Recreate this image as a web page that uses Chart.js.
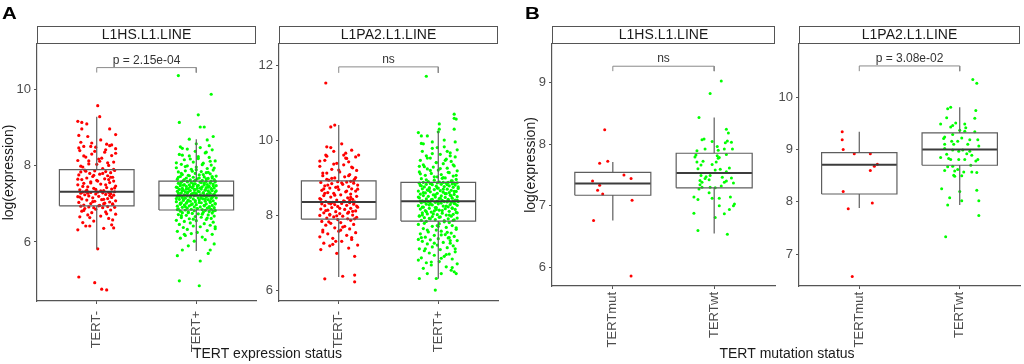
<!DOCTYPE html>
<html><head><meta charset="utf-8">
<script src="https://cdn.jsdelivr.net/npm/chart.js@4.4.1/dist/chart.umd.min.js"></script>
<style>
html,body{margin:0;padding:0;background:#fff;}
#wrap{position:relative;width:1024px;height:364px;overflow:hidden;background:#fff;}
#wrap canvas{position:absolute;left:0;top:0;}
</style></head><body>
<div id="wrap">
<canvas id="cA1" width="1024" height="364"></canvas>
<canvas id="cA2" width="1024" height="364"></canvas>
<canvas id="cB1" width="1024" height="364"></canvas>
<canvas id="cB2" width="1024" height="364"></canvas>
</div>
<script>
// ---------- categories & labels ----------
const categoriesA = ['TERT-', 'TERT+'];
const categoriesB = ['TERTmut', 'TERTwt'];
const stripLabels = ['L1HS.L1.LINE', 'L1PA2.L1.LINE', 'L1HS.L1.LINE', 'L1PA2.L1.LINE'];
const pLabels = ['p = 2.15e-04', 'ns', 'ns', 'p = 3.08e-02'];
const yTitle = 'log(expression)';
const xTitleA = 'TERT expression status';
const xTitleB = 'TERT mutation status';

// ---------- y axis ranges and ticks ----------
const yRangeA1 = [4.45, 11.2];  const yTicksA1 = [6, 8, 10];
const yRangeA2 = [5.71, 12.56]; const yTicksA2 = [6, 8, 10, 12];
const yRangeB1 = [5.70, 9.62];  const yTicksB1 = [6, 7, 8, 9];
const yRangeB2 = [6.39, 11.02]; const yTicksB2 = [7, 8, 9, 10];

// ---------- box statistics: [Q1, median, Q3, lower whisker, upper whisker] ----------
const boxA1Neg = [6.95, 7.32, 7.90, 5.82, 9.29];
const boxA1Pos = [6.84, 7.22, 7.60, 5.76, 8.70];
const boxA2Neg = [7.89, 8.35, 8.91, 6.35, 10.40];
const boxA2Pos = [7.84, 8.37, 8.87, 6.30, 10.24];
const boxB1Mut = [7.17, 7.36, 7.54, 6.76, 7.71];
const boxB1Wt  = [7.29, 7.53, 7.85, 6.55, 8.43];
const boxB2Mut = [8.15, 8.71, 8.94, 7.88, 9.34];
const boxB2Wt  = [8.70, 9.00, 9.32, 7.94, 9.81];

// ---------- significance brackets: [top, end] ----------
const bracketA1 = [10.58, 10.45];
const bracketA2 = [11.95, 11.79];
const bracketB1 = [9.26, 9.18];
const bracketB2 = [10.60, 10.50];

// ---------- jittered points: [jitter (1/100 category), value] ----------
const ptsA1Neg = [[-18,5.08],[-2,4.93],[5,4.76],[10,4.74],[1,5.82],
[-19,6.32],[-11,6.42],[-7,6.42],[7,6.36],[17,6.37],[15,6.45],[16,6.58],[-14,6.51],[-3,6.55],[12,6.62],[-17,6.66],[4,6.68],[-9,6.71],[19,6.73],[-5,6.77],[9,6.79],[-15,6.81],[14,6.84],[-1,6.86],[-12,6.88],[6,6.9],[18,6.91],[-8,6.92],[11,6.93],[-16,6.94],
[3,6.96],[-13,6.97],[16,6.99],[-6,7.01],[8,7.02],[-18,7.04],[13,7.05],[-2,7.07],[19,7.08],[-10,7.1],[5,7.11],[-15,7.13],[11,7.14],[-4,7.16],[15,7.17],[-19,7.19],[2,7.2],[-8,7.21],[17,7.23],[-12,7.24],[9,7.25],[-1,7.26],[14,7.27],[-16,7.28],[6,7.29],[-6,7.3],[12,7.3],[-14,7.31],[1,7.31],[18,7.32],
[-11,7.33],[7,7.35],[-17,7.37],[15,7.39],[-3,7.41],[10,7.43],[-9,7.45],[19,7.47],[-19,7.5],[4,7.52],[-13,7.54],[13,7.56],[-6,7.58],[17,7.6],[0,7.62],[-15,7.64],[8,7.66],[-10,7.68],[16,7.7],[-4,7.72],[11,7.74],[-18,7.76],[3,7.78],[-7,7.8],[14,7.82],[-16,7.84],[9,7.85],[-2,7.87],[18,7.88],[-12,7.89],
[6,7.93],[-14,7.97],[12,8.01],[-8,8.05],[17,8.1],[-19,8.14],[2,8.18],[-11,8.23],[15,8.27],[-5,8.31],[8,8.36],[-17,8.4],[19,8.45],[-1,8.49],[13,8.53],[-13,8.51],[-6,8.51],[10,8.57],[-16,8.62],[4,8.68],[-9,8.77],[-18,8.8],[19,8.82],[-15,8.97],[13,8.97],[-19,9.17],[-15,9.14],[-10,9.1],[3,9.29],[1,9.58],
[-7,6.64],[10,6.74],[-13,6.83],[2,6.95],[16,7.0],[-4,7.06],[7,7.12],[-17,7.18],[13,7.22],[-9,7.28],[4,7.34],[-1,7.38],[18,7.42],[-14,7.46],[9,7.5],[-6,7.55],[1,7.6],[-19,7.65],[14,7.7],[-3,7.75],[6,7.8],[-11,7.86],[17,7.91],[-16,7.99],[0,8.04],[11,8.08],[-8,8.13],[5,8.2],[-13,8.26],[19,8.33],[-2,8.38],[9,8.42],[-18,8.47],[15,8.55],[-5,8.6],[7,7.0],[-10,7.36],[12,7.64],[-3,6.9],[3,8.12]];

const ptsA1Pos = [[-17,4.98],[3,4.85],[4,5.5],[-19,5.64],[12,5.7],[-14,5.79],[14,5.79],
[-8,5.9],[18,5.95],[-2,6.02],[9,6.06],[-16,6.1],[6,6.13],[-11,6.17],[16,6.2],[-5,6.22],[1,6.25],[-19,6.28],[11,6.3],[-9,6.33],[19,6.35],[-13,6.38],[4,6.4],[-3,6.42],[14,6.44],[-17,6.46],[8,6.48],[-6,6.5],[17,6.52],[-12,6.54],[0,6.56],[-20,6.57],[10,6.59],[-7,6.61],[15,6.62],[-15,6.64],[5,6.65],[-1,6.67],[18,6.68],[-10,6.7],[12,6.71],[-18,6.72],[2,6.74],[-4,6.75],[16,6.76],[-14,6.77],[7,6.78],[-8,6.79],[13,6.8],[-16,6.81],[-2,6.82],[19,6.83],[9,6.83],
[-11,6.84],[6,6.85],[15,6.86],[-5,6.86],[-18,6.87],[1,6.88],[11,6.89],[-9,6.89],[18,6.9],[-14,6.91],[4,6.92],[-2,6.92],[13,6.93],[-19,6.94],[8,6.95],[-7,6.95],[16,6.96],[-12,6.97],[0,6.98],[-16,6.99],[10,7.0],[-4,7.0],[19,7.01],[-10,7.02],[5,7.03],[-15,7.03],[14,7.04],[-1,7.05],[-20,7.06],[9,7.07],[-6,7.07],[17,7.08],[-13,7.09],[3,7.1],[-8,7.1],[12,7.11],[-17,7.12],[7,7.13],[-3,7.13],[15,7.14],[-11,7.15],[2,7.16],[20,7.16],[-14,7.17],[10,7.18],[-6,7.18],[16,7.19],[-19,7.2],[5,7.2],[-9,7.21],[13,7.21],[-2,7.22],[18,7.22],[-16,7.22],[8,7.22],
[-12,7.23],[4,7.24],[17,7.24],[-5,7.25],[-18,7.26],[11,7.26],[0,7.27],[-9,7.28],[14,7.28],[-15,7.29],[7,7.3],[-2,7.3],[19,7.31],[-11,7.32],[3,7.32],[-19,7.33],[12,7.34],[-6,7.35],[16,7.35],[-13,7.36],[9,7.37],[-1,7.37],[-17,7.38],[5,7.39],[15,7.39],[-8,7.4],[1,7.41],[-14,7.41],[18,7.42],[-4,7.43],[10,7.43],[-20,7.44],[6,7.45],[-10,7.46],[13,7.46],[-3,7.47],[-16,7.48],[20,7.48],[2,7.49],[-7,7.5],[11,7.51],[-12,7.51],[17,7.52],[-1,7.53],[8,7.54],[-18,7.54],[14,7.55],[-5,7.56],[4,7.57],[-15,7.57],[19,7.58],[-9,7.59],[10,7.59],[-2,7.6],[15,7.6],
[-13,7.61],[6,7.62],[-6,7.63],[18,7.64],[-19,7.65],[1,7.66],[12,7.67],[-10,7.68],[16,7.69],[-3,7.7],[8,7.71],[-16,7.72],[20,7.73],[-8,7.75],[3,7.76],[-14,7.77],[14,7.79],[-1,7.8],[10,7.82],[-18,7.84],[5,7.85],[-11,7.87],[17,7.89],[-5,7.91],[11,7.93],[-20,7.95],[0,7.97],[-9,8.0],[15,8.02],[-15,8.04],[7,8.07],[-3,8.1],[19,8.13],[-12,8.16],[2,8.19],[13,8.22],[-7,8.26],[-17,8.3],[9,8.34],[-1,8.38],[16,8.42],[-14,8.46],[-16,8.5],[13,8.53],[0,8.58],[11,8.68],[-7,8.7],[17,8.77],[8,9.02],[4,9.02],[-17,9.14],[2,9.34],[15,9.88],[-18,10.37],
[-3,6.6],[11,6.63],[-15,6.69],[6,6.73],[-8,6.77],[17,6.81],[-19,6.85],[1,6.88],[13,6.9],[-11,6.93],[8,6.96],[-5,6.98],[19,7.0],[-16,7.02],[3,7.04],[-9,7.06],[14,7.07],[-1,7.09],[-13,7.11],[9,7.12],[-20,7.14],[5,7.15],[16,7.17],[-6,7.18],[-17,7.2],[11,7.21],[0,7.23],[-12,7.24],[18,7.25],[-4,7.27],[7,7.28],[-18,7.29],[13,7.31],[-8,7.32],[2,7.33],[20,7.34],[-14,7.35],[9,7.36],[-2,7.38],[-10,7.39],[15,7.4],[4,7.42],[-19,7.43],[12,7.44],[-6,7.45],[1,7.47],[17,7.48],[-13,7.49],[8,7.5],[-3,7.52],[-16,7.53],[14,7.55],[5,7.56],[-9,7.58],[19,7.6],[-1,7.62],[-12,7.64],[10,7.66],[3,7.68],[-18,7.7],[16,7.72],[-7,7.74],[7,7.77],[-15,7.8],[12,7.83],[-4,7.86],[0,7.9],[18,7.94],[-11,7.98],[6,8.03],[-20,8.08],[14,8.12],[-6,8.18],[2,8.24],[-14,8.28],[10,8.36],[-9,8.44],[4,8.48],[19,6.4],[-12,6.2]];

const ptsA2Neg = [[-14,6.3],[16,6.22],[4,6.37],[16,6.4],[16,6.9],[-2,6.98],[-18,7.08],[10,7.12],[-9,7.18],[19,7.2],[-15,7.25],[3,7.3],[13,7.35],[-6,7.38],[-19,7.42],[8,7.46],[-11,7.5],[17,7.53],[0,7.57],[-16,7.6],[11,7.63],[-4,7.66],[6,7.7],[-13,7.73],[15,7.75],[-8,7.78],[2,7.8],[-17,7.83],[12,7.86],[-1,7.88],
[9,7.9],[-12,7.92],[18,7.94],[-5,7.95],[4,7.97],[-19,7.99],[14,8.0],[-9,8.02],[1,8.04],[-15,8.06],[10,8.08],[-3,8.09],[17,8.11],[-11,8.13],[6,8.15],[-18,8.16],[12,8.18],[-7,8.2],[19,8.21],[-1,8.23],[-14,8.25],[8,8.26],[-4,8.28],[15,8.29],[-17,8.3],[3,8.31],[-10,8.32],[11,8.33],[-6,8.34],[16,8.35],
[-13,8.36],[5,8.38],[-2,8.4],[14,8.42],[-19,8.44],[9,8.46],[-8,8.48],[18,8.5],[-15,8.52],[2,8.54],[12,8.56],[-5,8.58],[-11,8.6],[7,8.62],[17,8.64],[-17,8.66],[0,8.68],[13,8.7],[-9,8.72],[-3,8.74],[10,8.76],[-14,8.78],[19,8.8],[4,8.82],[-7,8.84],[15,8.85],[-18,8.87],[8,8.88],[-1,8.89],[12,8.9],
[-10,8.93],[16,8.96],[-4,8.99],[6,9.02],[-16,9.05],[11,9.08],[-12,9.12],[1,9.15],[18,9.19],[-7,9.22],[14,9.26],[-19,9.3],[5,9.34],[-2,9.38],[10,9.42],[-14,9.46],[8,9.51],[17,9.55],[-12,9.57],[-13,9.6],[20,9.6],[13,9.73],[-8,9.8],[-12,9.82],[7,9.65],[-5,9.7],[-8,10.35],[-4,10.4],[-13,11.52],[3,9.9],
[-6,7.22],[13,7.4],[-16,7.55],[4,7.68],[-10,7.82],[16,7.9],[-2,7.98],[9,8.05],[-13,8.12],[1,8.18],[18,8.24],[-8,8.3],[6,8.36],[-18,8.42],[12,8.47],[-4,8.53],[-14,8.58],[8,8.64],[19,8.69],[-1,8.75],[-11,8.8],[3,8.86],[15,8.92],[-7,8.98],[10,9.05],[-16,9.12],[0,9.2],[13,9.28],[-5,9.36],[-19,9.44],[7,9.52],[-9,8.0],[11,8.4],[-15,8.7],[2,7.6],[17,9.0],[-3,7.3],[5,9.6],[-12,8.95],[14,8.1]];

const ptsA2Pos = [[-3,6.0],[-19,6.31],[-2,6.31],[-11,6.44],[3,6.44],[13,6.53],[16,6.49],[18,6.44],[-20,6.8],[-15,6.58],[8,6.62],[-7,6.67],[19,6.7],[-12,6.73],[1,6.76],[14,6.83],[-17,6.86],[6,6.9],[-4,6.93],[11,6.96],[-9,6.99],[17,7.02],[-14,7.05],[2,7.08],[-19,7.1],[9,7.13],[-6,7.15],[15,7.18],[-1,7.2],[-11,7.23],[12,7.25],[5,7.27],[-16,7.3],[19,7.32],[-8,7.34],[0,7.37],[10,7.39],[-13,7.41],[16,7.43],[-4,7.46],[7,7.48],[-18,7.5],[13,7.52],[-10,7.55],[3,7.57],[-2,7.6],[18,7.62],[-15,7.64],[8,7.67],[-6,7.7],[14,7.72],[-20,7.75],[1,7.77],[11,7.8],[-12,7.83],
[6,7.85],[-17,7.86],[16,7.87],[-3,7.88],[10,7.9],[-9,7.91],[19,7.92],[-14,7.93],[2,7.95],[-6,7.96],[13,7.97],[-19,7.98],[8,8.0],[-1,8.01],[15,8.02],[-11,8.03],[4,8.05],[-16,8.06],[18,8.07],[-7,8.08],[11,8.1],[-4,8.11],[-13,8.12],[1,8.13],[17,8.15],[-18,8.16],[7,8.17],[-9,8.18],[14,8.19],[-2,8.2],[-15,8.21],[10,8.22],[5,8.24],[-20,8.25],[19,8.26],[-6,8.27],[12,8.28],[-12,8.29],[0,8.3],[16,8.31],[-8,8.31],[3,8.32],[-17,8.33],[13,8.34],[-3,8.34],[9,8.35],[-14,8.35],[20,8.36],[-10,8.36],[6,8.36],[-1,8.37],[-18,8.37],[15,8.37],
[-16,8.38],[4,8.39],[17,8.4],[-7,8.41],[10,8.42],[-12,8.43],[1,8.44],[14,8.45],[-19,8.46],[7,8.47],[-3,8.48],[19,8.49],[-10,8.5],[3,8.51],[-15,8.52],[12,8.53],[-5,8.54],[16,8.55],[-18,8.56],[8,8.57],[-1,8.58],[-13,8.59],[11,8.6],[5,8.61],[-8,8.62],[18,8.63],[-20,8.64],[2,8.65],[13,8.66],[-11,8.67],[-4,8.68],[9,8.69],[-16,8.7],[20,8.71],[0,8.72],[-9,8.73],[15,8.74],[-14,8.75],[6,8.76],[-2,8.77],[11,8.78],[-18,8.79],[17,8.8],[-6,8.81],[3,8.82],[-12,8.82],[14,8.83],[-8,8.84],[8,8.85],[-19,8.85],[19,8.86],[-1,8.86],[10,8.87],[-15,8.87],[5,8.87],
[-10,8.89],[13,8.91],[-4,8.93],[18,8.95],[-17,8.97],[7,8.99],[-1,9.02],[15,9.04],[-13,9.06],[3,9.08],[-7,9.11],[11,9.13],[-19,9.15],[19,9.18],[0,9.2],[-11,9.23],[9,9.25],[-5,9.28],[16,9.31],[-15,9.34],[5,9.37],[-2,9.4],[13,9.43],[-18,9.46],[8,9.49],[-8,9.52],[17,9.55],[-12,9.58],[2,9.62],[12,9.66],[-16,9.7],[19,9.74],[-6,9.78],[6,9.82],[-17,9.91],[-6,9.95],[17,9.95],[-20,10.2],[-17,10.11],[-11,10.11],[0,10.22],[16,10.29],[1,10.29],[1,10.43],[18,10.56],[16,10.58],[16,10.69],[-12,11.7],
[-4,7.25],[12,7.32],[-17,7.4],[3,7.47],[9,7.54],[-11,7.6],[18,7.66],[-1,7.72],[-14,7.78],[6,7.82],[15,7.86],[-8,7.9],[1,7.94],[-19,7.97],[11,8.0],[-5,8.03],[19,8.06],[-12,8.09],[4,8.12],[-2,8.15],[14,8.18],[-16,8.21],[8,8.24],[-9,8.27],[17,8.3],[0,8.33],[-13,8.36],[10,8.39],[-6,8.42],[2,8.45],[-20,8.48],[13,8.51],[-3,8.54],[7,8.57],[-15,8.6],[16,8.63],[-10,8.66],[5,8.69],[-1,8.72],[20,8.75],[-17,8.78],[9,8.81],[-7,8.84],[1,8.88],[14,8.91],[-12,8.94],[4,8.98],[-4,9.02],[18,9.06],[-18,9.1],[10,9.14],[-8,9.19],[2,9.24],[-14,9.29],[15,9.34],[-2,9.4],[7,9.46],[-11,9.52],[12,9.58],[-6,9.64],[0,7.7],[-16,8.0],[19,8.4],[-9,8.7],[5,9.0],[-19,9.3],[11,7.4],[-3,8.2],[16,8.85],[-13,7.1],[8,6.95],[-7,6.75],[14,6.6],[-20,7.35],[3,6.85],[17,7.1],[-1,9.8],[9,9.7],[-15,9.9],[6,10.0]];

const ptsB1Mut = [[-8,8.23],[-5,7.72],[-13,7.69],[11,7.5],[18,7.44],[-20,7.4],[-13,7.33],[-15,7.25],[-10,7.19],[19,7.09],[-19,6.76],[18,5.86]];
const ptsB1Wt = [[7,9.02],[-4,8.82],[-15,8.43],[12,8.24],[14,8.18],[-10,8.08],[-12,8.07],[13,8.05],[17,8.03],[11,8.02],[3,7.96],[10,7.92],[18,7.92],[-9,7.92],[-2,8.04],[-17,7.89],[4,7.9],[-18,7.82],[12,7.83],[3,7.81],[5,7.78],[-19,7.79],[-17,7.71],[-11,7.72],[4,7.77],[2,7.71],[-2,7.67],[-16,7.6],[-13,7.66],[6,7.59],[15,7.61],[1,7.58],[12,7.55],[-13,7.49],[-8,7.47],[-4,7.49],[-5,7.42],[-14,7.41],[-12,7.38],[12,7.4],[10,7.38],[19,7.37],[-14,7.34],[-12,7.3],[-4,7.3],[1,7.29],[7,7.32],[-5,7.21],[-20,7.14],[-16,7.1],[5,7.12],[16,7.14],[-2,7.12],[20,7.03],[19,7.0],[5,7.0],[15,6.94],[-20,6.88],[10,6.87],[1,6.81],[-16,6.6],[13,6.54],[-9,7.44],[8,7.46],[-15,7.27],[17,7.45]];
const ptsB2Mut = [[-17,9.34],[-17,9.19],[-16,9.0],[-5,8.92],[11,8.92],[18,8.72],[15,8.68],[11,8.6],[-16,8.2],[13,7.98],[-11,7.87],[-7,6.57]];
const ptsB2Wt = [[13,10.34],[17,10.27],[-9,9.81],[-12,9.78],[16,9.75],[-13,9.61],[15,9.6],[-19,9.49],[-4,9.51],[5,9.49],[-7,9.46],[-9,9.43],[6,9.42],[0,9.37],[5,9.35],[15,9.34],[-7,9.29],[-15,9.24],[2,9.22],[-16,9.21],[18,9.19],[10,9.19],[-8,9.16],[-2,9.16],[-15,9.1],[-6,9.1],[8,9.1],[19,9.07],[-15,9.02],[-7,8.99],[3,8.99],[-1,8.97],[10,8.97],[7,8.92],[-13,8.91],[12,8.89],[-19,8.85],[-11,8.83],[-9,8.81],[-1,8.81],[5,8.81],[18,8.81],[16,8.78],[11,8.7],[-7,8.68],[-12,8.67],[-2,8.62],[4,8.57],[-5,8.59],[-15,8.6],[-6,8.51],[-5,8.49],[2,8.5],[12,8.57],[17,8.56],[-18,8.25],[17,8.22],[0,8.2],[-10,8.08],[19,8.02],[2,8.02],[-12,7.94],[19,7.74],[-14,7.33]];

// ---------- drawing ----------
const FONT = "'Liberation Sans', Arial, Helvetica, sans-serif";
const HALF_BOX = 0.375;
const RED = '#ff0000', GREEN = '#00ff00';

function boxOutline(c, s) {
  const [q1, , q3, lo, hi] = s;
  return [
    {x: c - HALF_BOX, y: q1}, {x: c + HALF_BOX, y: q1}, {x: c + HALF_BOX, y: q3},
    {x: c - HALF_BOX, y: q3}, {x: c - HALF_BOX, y: q1}, {x: c, y: null},
    {x: c, y: q3}, {x: c, y: hi}, {x: c, y: null},
    {x: c, y: q1}, {x: c, y: lo}, {x: c, y: null}
  ];
}
function medianLine(c, s) {
  return [{x: c - HALF_BOX, y: s[1]}, {x: c + HALF_BOX, y: s[1]}, {x: c, y: null}];
}
function jitterPts(c, pts) {
  return pts.map(([dx, v]) => ({x: c + dx / 100, y: v}));
}

function makePanel(id, o) {
  const datasets = [
    {data: [...boxOutline(1, o.boxes[0]), ...boxOutline(2, o.boxes[1])], showLine: true, spanGaps: false,
     borderColor: '#5e5e5e', borderWidth: 1.2, pointRadius: 0, fill: false, order: 0},
    {data: [...medianLine(1, o.boxes[0]), ...medianLine(2, o.boxes[1])], showLine: true, spanGaps: false,
     borderColor: '#3c3c3c', borderWidth: 2, pointRadius: 0, fill: false, order: 0},
    {data: [{x: 1, y: o.bracket[1]}, {x: 1, y: o.bracket[0]}, {x: 2, y: o.bracket[0]}, {x: 2, y: o.bracket[1]}],
     showLine: true, borderColor: '#8a8a8a', borderWidth: 1, pointRadius: 0, fill: false, order: 0},
    {data: jitterPts(1, o.pts[0]), backgroundColor: RED, borderWidth: 0, pointRadius: o.r, order: 1},
    {data: jitterPts(2, o.pts[1]), backgroundColor: GREEN, borderWidth: 0, pointRadius: o.r, order: 1}
  ];
  const decor = {
    id: 'decor' + id,
    afterDraw(chart) {
      const {ctx, chartArea: ca, scales: {x, y}} = chart;
      ctx.save();
      ctx.fillStyle = '#fff';
      ctx.fillRect(ca.left, 26, ca.right - ca.left, ca.top - 26);
      ctx.strokeStyle = '#555'; ctx.lineWidth = 1;
      ctx.strokeRect(ca.left + 0.5, 26.5, ca.right - ca.left - 1, ca.top - 27);
      ctx.fillStyle = '#1a1a1a'; ctx.font = '14px ' + FONT;
      ctx.textAlign = 'center'; ctx.textBaseline = 'middle';
      ctx.fillText(o.strip, (ca.left + ca.right) / 2, (26 + ca.top) / 2 + 0.5);
      ctx.fillStyle = '#333'; ctx.font = '12px ' + FONT; ctx.textBaseline = 'alphabetic';
      ctx.fillText(o.pLabel, x.getPixelForValue(1.5), y.getPixelForValue(o.bracket[0]) - 4);
      if (o.extra) o.extra(ctx);
      ctx.restore();
    }
  };
  return new Chart(document.getElementById(id), {
    type: 'scatter',
    data: {datasets},
    options: {
      responsive: false, animation: false, devicePixelRatio: 1, events: [],
      layout: {padding: o.pad},
      plugins: {legend: {display: false}, tooltip: {enabled: false}},
      scales: {
        x: {
          type: 'linear', min: 0.4, max: 2.6,
          afterBuildTicks: s => { s.ticks = [1, 2].map(v => ({value: v})); },
          afterFit: s => { s.height = o.xH; },
          ticks: {autoSkip: false, minRotation: 90, maxRotation: 90, padding: o.xPad, color: '#4d4d4d',
                  font: {family: FONT, size: 13}, callback: v => o.cats[Math.round(v) - 1]},
          grid: {display: true, drawOnChartArea: false, drawTicks: true, tickLength: 3, color: '#555'},
          border: {display: true, color: '#555', width: 1.2}
        },
        y: {
          type: 'linear', min: o.yr[0], max: o.yr[1],
          afterBuildTicks: s => { s.ticks = o.yt.map(v => ({value: v})); },
          afterFit: s => { s.width = o.yW; },
          ticks: {padding: 3, color: '#4d4d4d', font: {family: FONT, size: 13}},
          grid: {display: true, drawOnChartArea: false, drawTicks: true, tickLength: 3, color: '#555'},
          border: {display: true, color: '#555', width: 1.2},
          title: o.yTitle ? {display: true, text: o.yTitle, color: '#1a1a1a', font: {family: FONT, size: 14},
                             padding: {top: o.yTitlePad, bottom: 0}} : {display: false}
        }
      }
    },
    plugins: [decor]
  });
}

function panelLetter(ctx, letter, x) {
  ctx.save();
  ctx.fillStyle = '#000'; ctx.font = 'bold 16px ' + FONT;
  ctx.textAlign = 'left'; ctx.textBaseline = 'alphabetic';
  ctx.translate(x, 18.6); ctx.scale(1.28, 1);
  ctx.fillText(letter, 0, 0);
  ctx.restore();
}
function groupTitle(ctx, text, cx) {
  ctx.fillStyle = '#1a1a1a'; ctx.font = '14px ' + FONT;
  ctx.textAlign = 'center'; ctx.textBaseline = 'alphabetic';
  ctx.fillText(text, cx, 357.5);
}

makePanel('cA1', {cats: categoriesA, yr: yRangeA1, yt: yTicksA1, boxes: [boxA1Neg, boxA1Pos], bracket: bracketA1,
  pts: [ptsA1Neg, ptsA1Pos], strip: stripLabels[0], pLabel: pLabels[0], r: 1.6,
  pad: {left: 0, right: 768, top: 44, bottom: 0}, yW: 37, xH: 63, xPad: 7, yTitle: yTitle, yTitlePad: 1,
  extra: ctx => { panelLetter(ctx, 'A', 2); groupTitle(ctx, xTitleA, 267.5); }});
makePanel('cA2', {cats: categoriesA, yr: yRangeA2, yt: yTicksA2, boxes: [boxA2Neg, boxA2Pos], bracket: bracketA2,
  pts: [ptsA2Neg, ptsA2Pos], strip: stripLabels[1], pLabel: pLabels[1], r: 1.6,
  pad: {left: 257, right: 526, top: 44, bottom: 0}, yW: 22, xH: 63, xPad: 7});
makePanel('cB1', {cats: categoriesB, yr: yRangeB1, yt: yTicksB1, boxes: [boxB1Mut, boxB1Wt], bracket: bracketB1,
  pts: [ptsB1Mut, ptsB1Wt], strip: stripLabels[2], pLabel: pLabels[2], r: 1.5,
  pad: {left: 521, right: 249, top: 44, bottom: 0}, yW: 31, xH: 78, xPad: 3, yTitle: yTitle, yTitlePad: 2,
  extra: ctx => { panelLetter(ctx, 'B', 525); groupTitle(ctx, xTitleB, 787); }});
makePanel('cB2', {cats: categoriesB, yr: yRangeB2, yt: yTicksB2, boxes: [boxB2Mut, boxB2Wt], bracket: bracketB2,
  pts: [ptsB2Mut, ptsB2Wt], strip: stripLabels[3], pLabel: pLabels[3], r: 1.5,
  pad: {left: 777, right: 2, top: 44, bottom: 0}, yW: 22, xH: 78, xPad: 3});
</script>
</body></html>
